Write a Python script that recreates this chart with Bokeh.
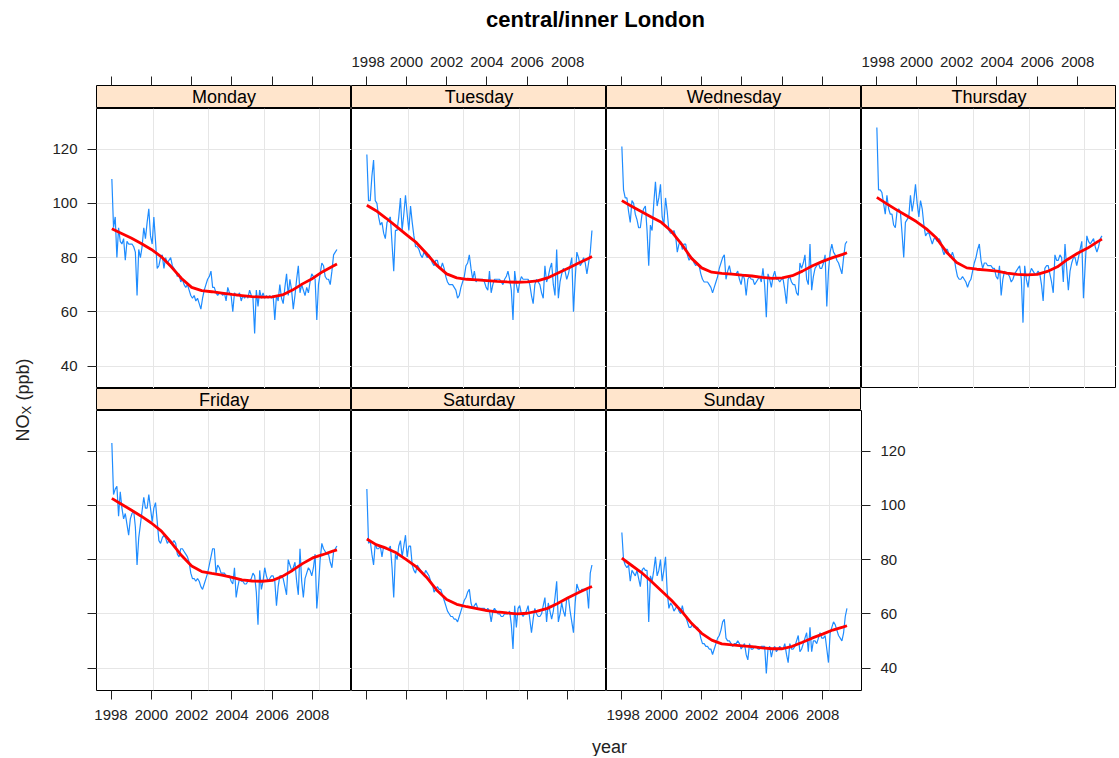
import pandas as pd
from bokeh.plotting import figure
from bokeh.models import Range1d, LinearAxis, FixedTicker, Label, Grid, CustomJSTickFormatter
from bokeh.layouts import row, column
from bokeh.embed import file_html
from bokeh.resources import INLINE

# ---------------- data ----------------
title_text = "central/inner London"
x_label = "year"
days = ["Monday", "Tuesday", "Wednesday", "Thursday", "Friday", "Saturday", "Sunday"]

month_index = pd.date_range("1998-01-01", periods=135, freq="MS")
years = [d.year + (d.month - 0.5) / 12.0 for d in month_index]

monday = [
    109, 91, 95, 80, 91, 86, 85, 87, 79, 86, 85, 85,
    85, 84, 82, 66, 83, 80, 84, 91, 87, 93, 98, 88,
    85, 95, 86, 76, 77, 80, 81, 76, 80, 78, 79, 80,
    77, 76, 75, 73, 74, 71, 72, 70, 69, 70, 68, 66,
    65, 66, 64, 65, 63, 61, 65, 68, 70, 72, 73, 75,
    69, 69, 67, 66, 67, 67, 66, 67, 64, 69, 67, 66,
    60, 67, 66, 66, 67, 64, 66, 65, 66, 65, 68, 66,
    65, 52, 68, 62, 68, 65, 67, 65, 66, 65, 66, 65,
    66, 57, 66, 64, 70, 65, 63, 69, 74, 66, 72, 68,
    61, 66, 72, 77, 67, 70, 68, 66, 69, 67, 71, 74,
    73, 72, 57, 70, 74, 78, 77, 73, 72, 72, 70, 75,
    81, 82, 83]
tuesday = [
    118, 101, 101, 110, 116, 101, 100, 95, 92, 93, 89, 87,
    93, 94, 95, 85, 75, 90, 90, 95, 102, 90, 96, 103,
    96, 90, 99, 93, 88, 84, 84, 83, 81, 80, 82, 81,
    80, 81, 80, 78, 77, 79, 79, 76, 76, 78, 76, 73,
    71, 70, 70, 70, 69, 68, 65, 66, 69, 71, 73, 77,
    78, 81, 76, 72, 75, 71, 72, 72, 72, 72, 71, 69,
    68, 75, 67, 70, 72, 72, 72, 72, 71, 70, 72, 73,
    75, 72, 68, 57, 75, 70, 67, 71, 73, 72, 72, 72,
    72, 70, 66, 63, 70, 72, 71, 70, 67, 65, 77, 71,
    73, 76, 78, 70, 66, 83, 65, 71, 74, 76, 75, 72,
    74, 77, 80, 60, 72, 82, 80, 77, 78, 80, 78, 74,
    78, 82, 90]
wednesday = [
    121, 105, 102, 102, 97, 93, 101, 100, 96, 94, 91, 91,
    96, 98, 99, 90, 77, 92, 90, 100, 108, 99, 102, 107,
    95, 92, 102, 97, 90, 89, 89, 90, 88, 82, 85, 86,
    83, 85, 85, 81, 79, 80, 80, 78, 77, 78, 77, 74,
    72, 71, 71, 71, 70, 69, 67, 69, 71, 73, 76, 78,
    80, 81, 72, 75, 77, 74, 74, 74, 74, 75, 72, 70,
    74, 72, 66, 72, 73, 72, 72, 70, 71, 72, 73, 71,
    76, 70, 58, 74, 72, 69, 73, 75, 72, 72, 71, 72,
    72, 68, 63, 72, 73, 71, 70, 70, 67, 66, 78, 76,
    78, 81, 72, 70, 85, 68, 73, 76, 77, 78, 76, 76,
    78, 81, 62, 75, 82, 85, 82, 81, 79, 78, 76, 74,
    80, 85, 86]
thursday = [
    128, 105, 105, 104, 100, 96, 103, 98, 96, 96, 92, 91,
    97, 98, 97, 89, 80, 93, 94, 95, 103, 97, 101, 107,
    100, 95, 101, 98, 92, 88, 89, 89, 87, 85, 87, 87,
    86, 87, 86, 83, 81, 83, 83, 81, 80, 82, 80, 76,
    73, 72, 72, 73, 72, 71, 69, 71, 72, 75, 78, 80,
    83, 85, 79, 76, 78, 78, 77, 77, 77, 76, 76, 73,
    72, 77, 66, 72, 75, 74, 74, 73, 71, 72, 74, 75,
    76, 77, 72, 56, 77, 72, 69, 74, 76, 75, 74, 74,
    75, 74, 70, 64, 76, 77, 77, 74, 71, 67, 81, 79,
    79, 81, 80, 71, 85, 76, 68, 75, 78, 80, 80, 77,
    80, 83, 86, 65, 77, 88, 86, 85, 86, 87, 84, 82,
    84, 87, 88]
friday = [
    123, 104, 106, 107, 96, 105, 99, 95, 97, 93, 89, 95,
    97, 98, 92, 78, 88, 93, 98, 103, 99, 99, 104, 99,
    94, 99, 101, 94, 87, 86, 88, 89, 88, 86, 87, 86,
    86, 87, 86, 82, 81, 84, 84, 83, 82, 81, 79, 75,
    73, 73, 72, 73, 72, 70, 69, 71, 73, 75, 78, 81,
    84, 84, 75, 78, 77, 75, 75, 75, 74, 74, 74, 72,
    71, 77, 66, 70, 73, 72, 72, 71, 71, 72, 72, 73,
    75, 74, 68, 56, 76, 69, 72, 77, 74, 72, 73, 74,
    74, 72, 63, 70, 74, 74, 73, 70, 67, 80, 78, 76,
    77, 79, 72, 67, 84, 72, 66, 73, 75, 77, 76, 74,
    77, 82, 62, 70, 80, 86, 84, 83, 82, 82, 79, 77,
    83, 84, 85]
saturday = [
    106, 86, 87, 82, 78, 86, 84, 84, 85, 81, 85, 84,
    84, 84, 85, 77, 66, 82, 80, 85, 87, 81, 85, 89,
    81, 85, 85, 78, 76, 75, 78, 77, 76, 75, 74, 76,
    75, 74, 72, 71, 68, 69, 70, 69, 69, 67, 65, 63,
    61, 60, 59, 59, 58, 58, 57, 59, 61, 63, 65, 66,
    68, 69, 64, 62, 63, 64, 62, 62, 62, 62, 62, 61,
    62, 61, 57, 61, 62, 61, 60, 60, 59, 59, 60, 60,
    60, 61, 56, 47, 63, 55, 62, 63, 60, 59, 60, 61,
    63, 58, 53, 58, 62, 60, 59, 59, 60, 63, 66, 57,
    64, 61, 58, 61, 66, 72, 57, 60, 64, 61, 59, 66,
    66, 61, 57, 53, 64, 71, 69, 68, 69, 69, 69, 69,
    62, 75, 78]
sunday = [
    90, 80, 78, 77, 78, 72, 76, 75, 74, 76, 73, 70,
    76, 77, 76, 76, 57, 74, 72, 76, 81, 74, 76, 80,
    72, 76, 81, 68, 62, 64, 63, 61, 62, 63, 61, 60,
    63, 60, 59, 57, 55, 55, 56, 55, 55, 55, 54, 51,
    49, 49, 48, 48, 47, 47, 45, 47, 49, 51, 52, 54,
    57, 58, 51, 50, 50, 49, 48, 49, 49, 50, 49, 47,
    48, 49, 45, 43, 49, 47, 47, 48, 48, 47, 47, 48,
    48, 48, 38, 47, 48, 44, 47, 48, 46, 47, 48, 47,
    47, 49, 45, 42, 49, 47, 47, 48, 50, 52, 46, 47,
    49, 51, 53, 46, 55, 46, 50, 50, 49, 51, 53, 51,
    51, 52, 47, 42, 53, 55, 57, 56, 54, 52, 51, 50,
    53, 59, 62]

smooth_years = [1998.04, 1998.5, 1999.0, 1999.5, 2000.0, 2000.5, 2001.0, 2001.5,
                2002.0, 2002.5, 2003.0, 2003.5, 2004.0, 2004.5, 2005.0, 2005.5,
                2006.0, 2006.5, 2007.0, 2007.5, 2008.0, 2008.5, 2009.0, 2009.21]
monday_trend = [90.6, 89.0, 87.2, 85.2, 83.0, 80.3, 76.5, 72.3, 69.0, 67.8, 67.4, 66.9,
                66.4, 66.0, 65.6, 65.4, 65.5, 66.2, 68.0, 70.3, 72.3, 74.8, 76.8, 77.6]
tuesday_trend = [99.3, 97.3, 94.5, 91.5, 88.5, 85.5, 81.5, 77.2, 74.0, 72.5, 72.0, 71.8,
                 71.5, 71.2, 71.0, 70.9, 71.0, 71.4, 72.5, 74.2, 76.0, 77.8, 79.6, 80.4]
wednesday_trend = [101.0, 99.0, 97.0, 95.0, 93.0, 89.7, 85.0, 79.7, 76.2, 74.6, 74.2, 73.9,
                   73.5, 73.2, 72.7, 72.3, 72.5, 73.3, 75.0, 77.0, 78.6, 80.0, 81.2, 81.8]
thursday_trend = [102.2, 100.0, 97.7, 95.5, 93.3, 90.6, 87.2, 82.0, 78.2, 76.2, 75.7, 75.4,
                  75.0, 74.3, 73.8, 73.6, 73.8, 74.9, 76.6, 79.3, 81.6, 83.5, 85.9, 86.8]
friday_trend = [102.6, 100.5, 98.3, 96.0, 93.5, 90.5, 86.2, 81.5, 77.6, 75.6, 74.9, 74.3,
                73.4, 72.5, 72.1, 72.0, 72.3, 73.8, 76.0, 78.5, 80.6, 81.8, 83.1, 83.6]
saturday_trend = [87.6, 85.5, 84.2, 82.5, 80.0, 77.3, 73.5, 68.8, 65.3, 63.5, 62.6, 61.9,
                  61.2, 60.7, 60.3, 60.0, 60.2, 61.0, 62.0, 63.8, 65.8, 67.7, 69.4, 70.1]
sunday_trend = [80.5, 78.0, 75.3, 72.0, 68.5, 65.0, 61.0, 56.5, 52.8, 50.3, 48.9, 48.5,
                48.2, 47.9, 47.4, 47.1, 47.1, 48.0, 49.5, 51.1, 52.5, 54.0, 55.1, 55.6]

x_ticks = [1998, 2000, 2002, 2004, 2006, 2008]
y_ticks = [40, 60, 80, 100, 120]
grid_days = [11000, 12000, 13000, 14000]   # vertical grid at day numbers since 1970

series = dict(zip(days, [monday, tuesday, wednesday, thursday, friday, saturday, sunday]))
trends = dict(zip(days, [monday_trend, tuesday_trend, wednesday_trend, thursday_trend,
                         friday_trend, saturday_trend, sunday_trend]))
for d in days:
    assert len(series[d]) == len(years), (d, len(series[d]))
    assert len(trends[d]) == len(smooth_years), (d, len(trends[d]))


def day_to_year(n):
    t = pd.Timestamp("1970-01-01") + pd.Timedelta(days=n)
    return t.year + (t.dayofyear - 1) / (366.0 if t.is_leap_year else 365.0)


v_grid = [day_to_year(n) for n in grid_days]

# ---------------- style ----------------
FONT = "Liberation Sans"
BLUE = "#1E8CFF"
STRIP = "#FFE5CC"
GRID = "#E6E6E6"
TXT = "#222222"
FW, FH = 255, 280
L, R, TOP, B = 48, 52, 41, 38
SH1, SH2 = 23, 22
LW, HEADER, FOOTER = 48, 44, 28
TOTAL_H = HEADER + TOP + SH1 + FH + SH2 + FH + B + FOOTER
RIGHT_W = L + 4 * FW

XR = Range1d(1997.28, 2009.93)
YR = Range1d(31.7, 135.0)

positions = {"Monday": (0, 0), "Tuesday": (0, 1), "Wednesday": (0, 2), "Thursday": (0, 3),
             "Friday": (1, 0), "Saturday": (1, 1), "Sunday": (1, 2)}


def base_fig(**kw):
    p = figure(output_backend="svg", toolbar_location=None, title=None,
               x_axis_location=None, y_axis_location=None, min_border=0,
               border_fill_color="white", **kw)
    for g in p.grid:
        g.visible = False
    return p


def make_axis(ticks, labels):
    ax = LinearAxis(ticker=FixedTicker(ticks=ticks, minor_ticks=[]),
                    axis_line_color=None, major_tick_line_color=TXT,
                    major_tick_line_width=1, major_tick_in=0, major_tick_out=9,
                    minor_tick_line_color=None, major_label_text_font=FONT,
                    major_label_text_font_size="15px", major_label_text_color=TXT,
                    major_label_standoff=10)
    if not labels:
        ax.formatter = CustomJSTickFormatter(code="return '';")
    return ax


def make_strip(day):
    r, c = positions[day]
    s = base_fig(frame_width=FW, frame_height=SH1 if r == 0 else SH2,
                 x_range=XR, y_range=Range1d(0, 1),
                 min_border_left=L if c == 0 else 0,
                 min_border_top=TOP if r == 0 else 0,
                 background_fill_color=STRIP, outline_line_color="black",
                 outline_line_width=1)
    s.add_layout(Label(x=(XR.start + XR.end) / 2, y=0.5, text=day, text_align="center",
                       text_baseline="middle", text_font=FONT, text_font_size="18px",
                       text_color="black"))
    if r == 0:
        s.add_layout(make_axis(x_ticks, labels=(c % 2 == 1)), "above")
    return s


def make_panel(day):
    r, c = positions[day]
    p = base_fig(frame_width=FW, frame_height=FH, x_range=XR, y_range=YR,
                 min_border_left=L if c == 0 else 0,
                 min_border_bottom=B if r == 1 else 0,
                 min_border_right=R if day == "Sunday" else 0,
                 background_fill_color="white", outline_line_color="black",
                 outline_line_width=1)
    p.add_layout(Grid(dimension=0, ticker=FixedTicker(ticks=v_grid, minor_ticks=[]),
                      grid_line_color=GRID, grid_line_width=1))
    p.add_layout(Grid(dimension=1, ticker=FixedTicker(ticks=y_ticks, minor_ticks=[]),
                      grid_line_color=GRID, grid_line_width=1))
    p.line(years, series[day], line_color=BLUE, line_width=1.2)
    p.line(smooth_years, trends[day], line_color="red", line_width=2.8, line_join="round")
    if c == 0:
        p.add_layout(make_axis(y_ticks, labels=(r == 0)), "left")
    if r == 1:
        p.add_layout(make_axis(x_ticks, labels=(c != 1)), "below")
    if day == "Sunday":
        p.add_layout(make_axis(y_ticks, labels=True), "right")
    return p


row1 = ["Monday", "Tuesday", "Wednesday", "Thursday"]
row2 = ["Friday", "Saturday", "Sunday"]

header = base_fig(width=RIGHT_W, height=HEADER, x_range=Range1d(0, RIGHT_W),
                  y_range=Range1d(0, HEADER), outline_line_color=None)
header.add_layout(Label(x=547, y=HEADER - 19, text=title_text, text_align="center",
                        text_baseline="middle", text_font=FONT, text_font_size="22px",
                        text_font_style="bold", text_color="black"))

footer = base_fig(width=RIGHT_W, height=FOOTER, x_range=Range1d(0, RIGHT_W),
                  y_range=Range1d(0, FOOTER), outline_line_color=None)
footer.add_layout(Label(x=561, y=10, text=x_label, text_align="center",
                        text_baseline="middle", text_font=FONT, text_font_size="18px",
                        text_color=TXT))

ylab = base_fig(width=LW, height=TOTAL_H, x_range=Range1d(0, LW),
                y_range=Range1d(0, TOTAL_H), outline_line_color=None)
yc = TOTAL_H - 400
y0 = yc - 41
ylab.add_layout(Label(x=22, y=y0, text="NO", angle=90, angle_units="deg",
                      text_align="left", text_baseline="middle", text_font=FONT,
                      text_font_size="18px", text_color=TXT))
ylab.add_layout(Label(x=26, y=y0 + 27, text="X", angle=90, angle_units="deg",
                      text_align="left", text_baseline="middle", text_font=FONT,
                      text_font_size="13px", text_color=TXT))
ylab.add_layout(Label(x=22, y=y0 + 41, text="(ppb)", angle=90, angle_units="deg",
                      text_align="left", text_baseline="middle", text_font=FONT,
                      text_font_size="18px", text_color=TXT))

right = column(
    header,
    row([make_strip(d) for d in row1]),
    row([make_panel(d) for d in row1]),
    row([make_strip(d) for d in row2]),
    row([make_panel(d) for d in row2]),
    footer,
)
layout = row(ylab, right)

open("out.html", "w").write(file_html(layout, INLINE))
